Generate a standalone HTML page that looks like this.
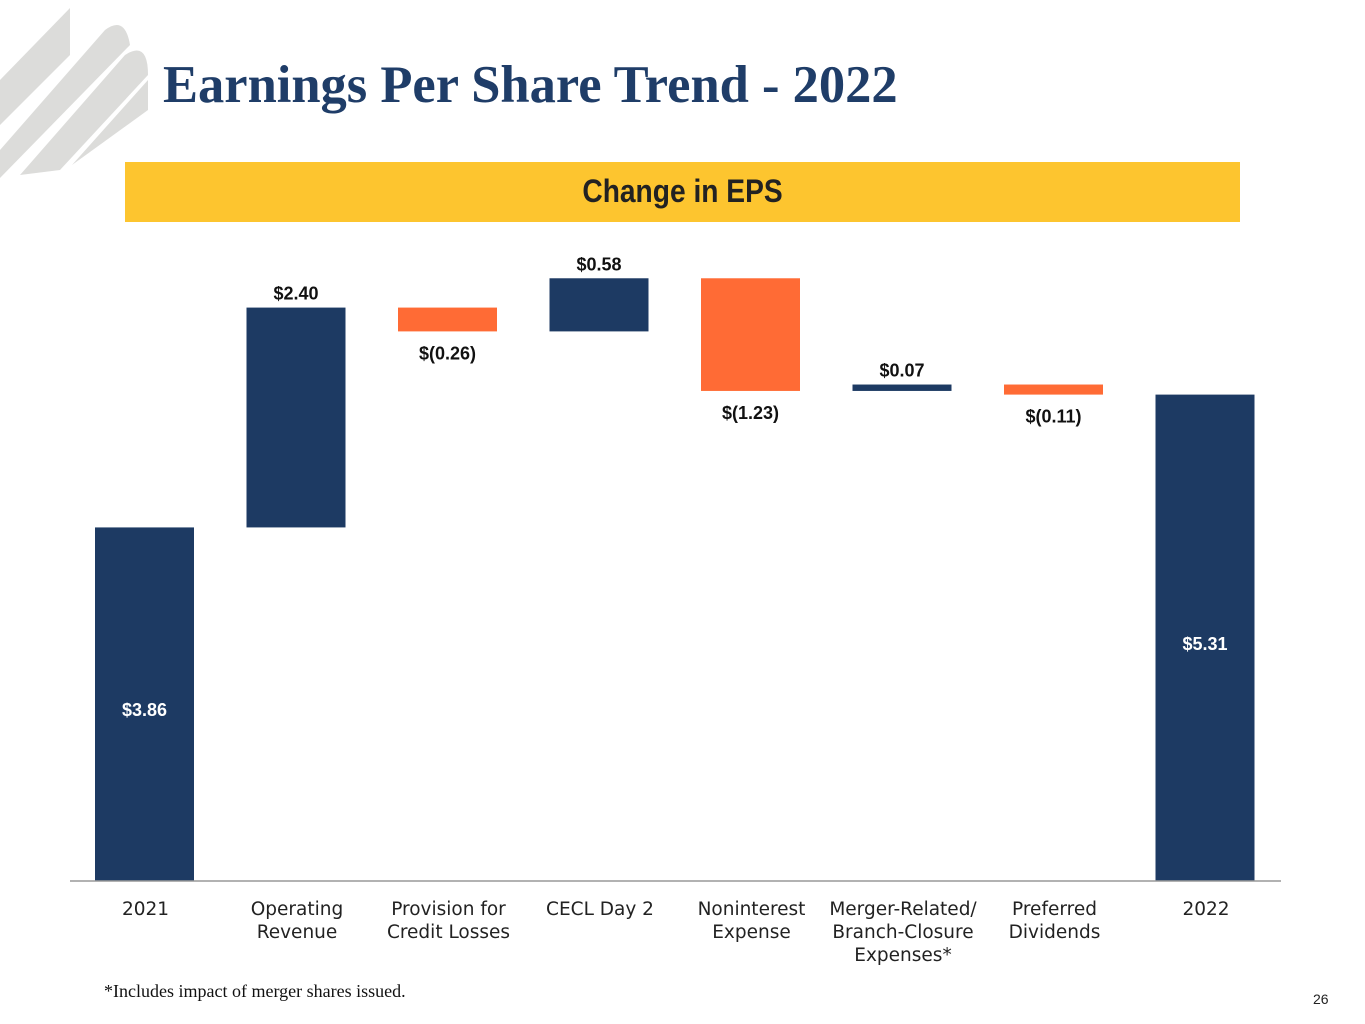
<!DOCTYPE html>
<html><head><meta charset="utf-8"><style>
body{margin:0;width:1365px;height:1024px;background:#fff;position:relative;overflow:hidden;font-family:"Liberation Sans",sans-serif}
.t{position:absolute;white-space:nowrap}
</style></head><body>
<svg width="160" height="180" style="position:absolute;left:0;top:0">
<g fill="#dcdcda">
<polygon points="70,8 70,55 0,125 0,80"/>
<path d="M0,150 L105,30 Q125,15 130,45 L0,178 Z"/>
<path d="M20,175 L125,55 Q148,40 148,75 L60,170 Z"/>
<polygon points="72,165 148,80 148,110 72,165"/>
</g></svg>
<div class="t" style="left:163px;top:55px;font-family:'Liberation Serif',serif;font-size:52.5px;font-weight:bold;color:#1f3d68">Earnings Per Share Trend - 2022</div>
<div style="position:absolute;left:125px;top:162px;width:1115px;height:60px;background:#fdc52f"></div>
<div class="t" style="left:125px;width:1115px;text-align:center;top:173px;font-size:32px;font-weight:bold;color:#222;transform:scaleX(0.88)">Change in EPS</div>
<svg id="chart" width="1365" height="1024" style="position:absolute;left:0;top:0"></svg>
<div class="t" style="left:104px;top:981px;font-family:'Liberation Serif',serif;font-size:18px;color:#111">*Includes impact of merger shares issued.</div>
<div class="t" style="left:1313px;top:991px;font-size:14px;color:#222">26</div>
<script>
const categories=[["2021"],["Operating","Revenue"],["Provision for","Credit Losses"],["CECL Day 2"],["Noninterest","Expense"],["Merger-Related/","Branch-Closure","Expenses*"],["Preferred","Dividends"],["2022"]];
const values=[3.86,2.40,-0.26,0.58,-1.23,0.07,-0.11,5.31];
const kinds=["total","delta","delta","delta","delta","delta","delta","total"];
const labels=["$3.86","$2.40","$(0.26)","$0.58","$(1.23)","$0.07","$(0.11)","$5.31"];
const svg=document.getElementById('chart');const NS='http://www.w3.org/2000/svg';
const base=881,scale=91.6,x0=95,step=151.5,bw=99;
const y=v=>base-v*scale;const xc=i=>x0+i*step;
function mk(t,a){const e=document.createElementNS(NS,t);for(const k in a)e.setAttribute(k,a[k]);svg.appendChild(e);return e;}
let run=0;
values.forEach((v,i)=>{
 let lo,hi;
 if(kinds[i]==='total'){lo=0;hi=v;run=v;}else{const n=run+v;lo=Math.min(run,n);hi=Math.max(run,n);run=n;}
 const col=v<0?'#ff6b35':'#1d3a63';
 const r=mk('rect',{x:xc(i),y:y(hi),width:bw,height:y(lo)-y(hi),fill:col});
 
 
 let ty,fill='#111';
 if(kinds[i]==='total'){ty=(y(hi)+y(lo))/2+12;fill='#fff';}
 else if(v<0)ty=y(lo)+28;else ty=y(hi)-8;
 const t=mk('text',{x:xc(i)+bw/2,y:ty,'text-anchor':'middle','font-size':18,'font-weight':'bold',fill:fill,'font-family':'Liberation Sans, sans-serif'});
 t.textContent=labels[i];
 
 
 categories[i].forEach((ln,j)=>{
  const c=mk('text',{x:xc(i)+bw/2+1,y:915+j*23,'text-anchor':'middle','font-size':18.5,fill:'#222','font-family':'DejaVu Sans, sans-serif'});
  c.textContent=ln;
  
  
 });
});
const ax=mk('line',{x1:70,x2:1281,y1:base,y2:base,stroke:'#999','stroke-width':1.5});


</script>
</body></html>
